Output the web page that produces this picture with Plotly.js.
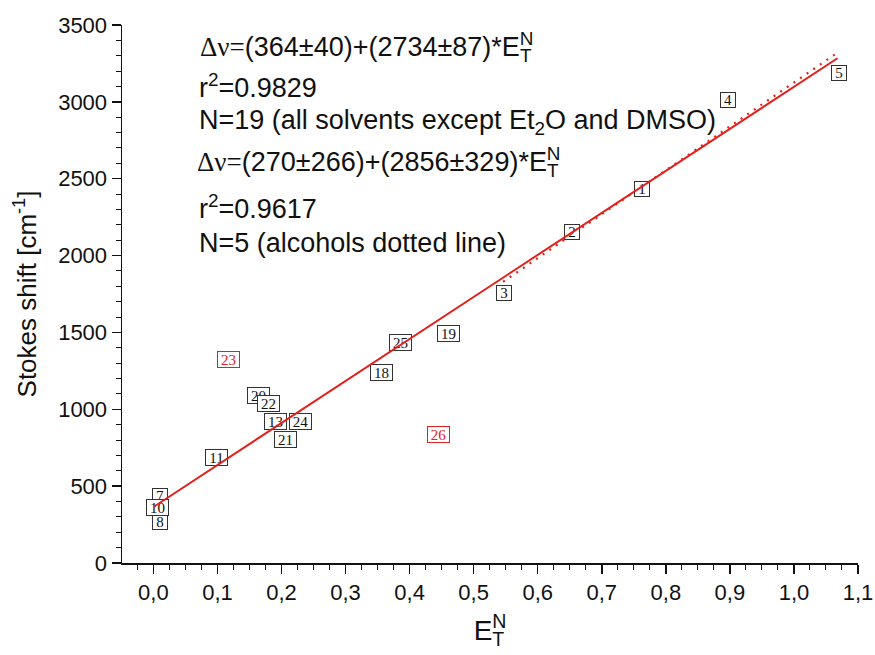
<!DOCTYPE html>
<html><head><meta charset="utf-8">
<script src="https://cdn.plot.ly/plotly-3.0.1.min.js"></script>
<style>html,body{margin:0;padding:0;background:#fff}#chart{width:875px;height:655px}</style>
</head><body><div id="chart"></div>
<script>
// Solvent points (label, E_T^N, Stokes shift cm-1) — drawing order matters for overlaps
const labels = ['8','7','10','11','20','22','21','13','24','18','25','19','3','2','1','4','5'];
const etN    = [0.010,0.011,0.007,0.099,0.164,0.179,0.207,0.191,0.229,0.356,0.386,0.460,0.547,0.653,0.763,0.897,1.070];
const shift  = [264,438,361,689,1088,1036,806,923,923,1242,1437,1495,1755,2156,2432,3012,3190];
// Outliers (red): Et2O and DMSO
const outLabels = ['23','26'];
const outEtN    = [0.117,0.445];
const outShift  = [1322,834];
// Fits: [intercept, slope] and x-extent
const fitAll  = [364, 2734];
const fitAllX = [0, 1.068];
const fitAlc  = [270, 2856];
const fitAlcX = [0.546, 1.068];

const RED = '#e3211c';
const SANS = 'Liberation Sans, Arial, sans-serif';
const SERIF = 'Liberation Serif, Times New Roman, serif';

function box(lbl, x, y, color, border) {
  const two = lbl.length > 1;
  return {
    text: lbl, x: x, y: y, xref: 'x', yref: 'y', xanchor: 'center', yanchor: 'middle',
    showarrow: false, width: two ? 21 : 14, height: two ? 15 : 14,
    bordercolor: border, borderwidth: 1, borderpad: 0, bgcolor: 'white',
    font: {family: SERIF, size: 15, color: color}
  };
}

const traces = [
  {x: fitAlcX, y: fitAlcX.map(v => fitAlc[0] + fitAlc[1]*v), mode: 'lines',
   line: {color: RED, width: 2.2, dash: '2px,6px'}, showlegend: false, hoverinfo: 'skip'}
];

const L = 122, R = 858, T = 25, B = 563.3;
const PX = p => (p - L) / (R - L);
const PY = p => (B - p) / (B - T);
const ET = 'E<sub><span style="letter-spacing:-0.62em">T</span></sub><sup>N</sup>';
const DN = '<span style="font-family:Liberation Serif, serif">Δν=</span>';
function txt(s, px, py) {
  return {text: s, xref: 'paper', yref: 'paper', x: PX(px), y: PY(py), xanchor: 'left', yanchor: 'middle',
          showarrow: false, align: 'left', font: {family: SANS, size: 27, color: '#111'}};
}
const annotations = [
  txt(DN + '(364±40)+(2734±87)*' + ET, 198, 45),
  txt('r<sup>2</sup>=0.9829', 197, 86),
  txt('N=19 (all solvents except Et<sub>2</sub>O and DMSO)', 197, 122),
  txt(DN + '(270±266)+(2856±329)*' + ET, 195, 160),
  txt('r<sup>2</sup>=0.9617', 197, 207),
  txt('N=5 (alcohols dotted line)', 197, 243)
];
labels.forEach((l,i) => annotations.push(box(l, etN[i], shift[i], '#111', '#333')));
outLabels.forEach((l,i) => annotations.push(box(l, outEtN[i], outShift[i], RED, RED)));
// Solid fit line drawn on top of the label boxes (annotation arrow in data coordinates)
annotations.push({
  text: '', xref: 'x', yref: 'y', axref: 'x', ayref: 'y',
  ax: fitAllX[0], ay: fitAll[0] + fitAll[1]*fitAllX[0],
  x: fitAllX[1], y: fitAll[0] + fitAll[1]*fitAllX[1],
  showarrow: true, arrowhead: 0, arrowwidth: 2, arrowcolor: RED,
  standoff: 0, startstandoff: 0, borderpad: 0, font: {size: 1}
});

const layout = {
  width: 875, height: 655,
  margin: {l: L, r: 875 - R, t: T, b: 655 - B},
  paper_bgcolor: 'white', plot_bgcolor: 'white',
  separators: ',.',
  showlegend: false,
  font: {family: SANS, color: '#111'},
  xaxis: {
    range: [-0.049, 1.1], tick0: 0, dtick: 0.1, tickformat: '.1f',
    ticks: 'outside', ticklen: 9, tickwidth: 1.5, tickcolor: '#111',
    showline: true, linecolor: '#111', linewidth: 1.5, zeroline: false, showgrid: false,
    minor: {dtick: 0.025, tick0: 0, ticks: 'outside', ticklen: 5, tickwidth: 1, tickcolor: '#111', showgrid: false},
    tickfont: {family: SANS, size: 22, color: '#111'},
    title: {text: ET, font: {family: SANS, size: 28, color: '#111'}, standoff: 16}
  },
  yaxis: {
    range: [0, 3500], tick0: 0, dtick: 500,
    ticks: 'outside', ticklen: 9, tickwidth: 1.5, tickcolor: '#111',
    showline: true, linecolor: '#111', linewidth: 1.5, zeroline: false, showgrid: false,
    minor: {dtick: 100, tick0: 0, ticks: 'outside', ticklen: 5, tickwidth: 1, tickcolor: '#111', showgrid: false},
    tickfont: {family: SANS, size: 22, color: '#111'},
    title: {text: 'Stokes shift [cm<sup>-1</sup>]', font: {family: SANS, size: 26, color: '#111'}, standoff: 14}
  },
  annotations: annotations
};
Plotly.newPlot('chart', traces, layout, {displayModeBar: false, staticPlot: true});
</script>
</body></html>
